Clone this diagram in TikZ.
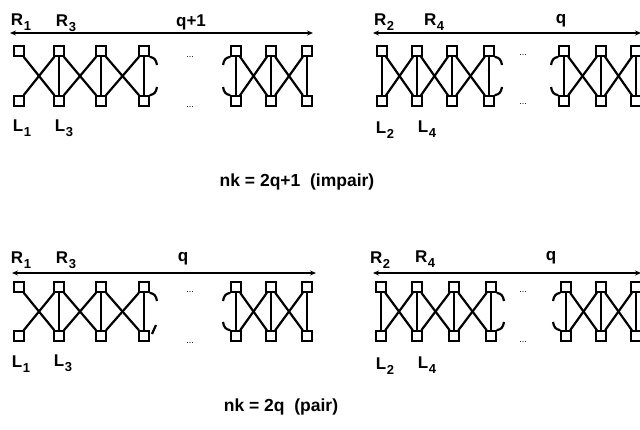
\documentclass[tikz,border=0pt]{standalone}
\usepackage{fontspec}
\setmainfont{Liberation Sans}
\usetikzlibrary{arrows.meta}
\newcommand{\lsub}[1]{\kern0.5pt\raisebox{-5pt}{\fontsize{13}{13}\selectfont #1}}
\tikzset{
  sq/.style={draw, line width=1.6pt, minimum size=10pt, inner sep=0pt},
  lnk/.style={line width=2.2pt},
  spanarr/.style={{Stealth[length=6pt, width=5pt]}-{Stealth[length=6pt, width=5pt]}, line width=1.2pt},
  lab/.style={font=\fontsize{17}{19}\selectfont\bfseries, inner sep=0pt},
  captxt/.style={font=\fontsize{17.5}{20}\selectfont\bfseries, inner sep=0pt},
  dts/.style={font=\fontsize{9}{9}\selectfont, inner sep=0pt}
}

\begin{document}
\begin{tikzpicture}[x=1pt, y=-1pt]
  \useasboundingbox (0,0) rectangle (640,429);
  % squares: a, b on top, c, d below
  \foreach \p/\yt/\yb/\xs in {a/51/101/{19,59,101,144,236,271,307},
                              b/51/101/{382,417,452,489,564,601,636},
                              c/287/336/{19,59,101,144,236,271,307},
                              d/287/336/{381,417,454,491,566,601,636}} {
    \foreach \x [count=\i] in \xs {
      \node[sq] (\p t\i) at (\x,\yt) {};
      \node[sq] (\p b\i) at (\x,\yb) {};
    }
  }
  % crossings and rungs
  \foreach \p in {a,b,c,d} {
    \foreach \i/\j in {1/2,2/3,3/4,5/6,6/7} {
      \draw[lnk] (\p t\i) -- (\p b\j);
      \draw[lnk] (\p b\i) -- (\p t\j);
    }
    \foreach \i in {2,...,7} \draw[lnk] (\p t\i) -- (\p b\i);
  }
  \draw[lnk] (bt1) -- (bb1);
  \draw[lnk] (dt1) -- (db1);
  % broken ends round the gap
  \foreach \p in {a,b,c,d} {
    \coordinate (\p u4) at ([shift={(13,14)}]\p t4.center);
    \coordinate (\p u5) at ([shift={(-13,14)}]\p t5.center);
    \coordinate (\p v5) at ([shift={(-13,-14)}]\p b5.center);
    \draw[lnk] (\p t4.south east) .. controls +(5,1) and +(-1,-5) .. (\p u4);
    \draw[lnk] (\p u5) .. controls +(1,-5) and +(-5,1) .. (\p t5.south west);
    \draw[lnk] (\p v5) .. controls +(1,5) and +(-5,-1) .. (\p b5.north west);
  }
  \foreach \p in {a,b,d} {
    \coordinate (\p v4) at ([shift={(13,-14)}]\p b4.center);
    \draw[lnk] (\p b4.north east) .. controls +(5,-1) and +(-1,5) .. (\p v4);
  }
  \coordinate (cw1) at ([shift={(8,-2)}]cb4.center);
  \coordinate (cw2) at ([shift={(12,-11)}]cb4.center);
  \draw[lnk] (cw1) -- (cw2);
  % spans
  \coordinate (ae1) at (10,33);  \coordinate (ae2) at (313,33);
  \coordinate (be1) at (373,33); \coordinate (be2) at (641,33);
  \coordinate (ce1) at (12,273); \coordinate (ce2) at (316,273);
  \coordinate (de1) at (373,273); \coordinate (de2) at (641,273);
  \foreach \p in {a,b,c,d} \draw[spanarr] (\p e1) -- (\p e2);
  % dots
  \node[dts] (ad1) at (190,57) {...};  \node[dts] (ad2) at (190,107) {...};
  \node[dts] (bd1) at (523,55) {...};  \node[dts] (bd2) at (523,104) {...};
  \node[dts] (cd1) at (190,292) {...}; \node[dts] (cd2) at (190,343) {...};
  \node[dts] (dd1) at (523,292) {...}; \node[dts] (dd2) at (523,342) {...};
  % labels
  \node[lab] (ar1) at (21,22) {R\lsub{1}};
  \node[lab] (ar3) at (66,23) {R\lsub{3}};
  \node[lab] (aq) at (191,22) {q+1};
  \node[lab] (al1) at (22,128) {L\lsub{1}};
  \node[lab] (al3) at (64,128) {L\lsub{3}};
  \node[lab] (br2) at (384,22) {R\lsub{2}};
  \node[lab] (br4) at (434,22) {R\lsub{4}};
  \node[lab] (bq) at (561,21) {q};
  \node[lab] (bl2) at (385,130) {L\lsub{2}};
  \node[lab] (bl4) at (427,129) {L\lsub{4}};
  \node[lab] (cr1) at (21,260) {R\lsub{1}};
  \node[lab] (cr3) at (66,260) {R\lsub{3}};
  \node[lab] (cq) at (183,259) {q};
  \node[lab] (cl1) at (21,364) {L\lsub{1}};
  \node[lab] (cl3) at (63,363) {L\lsub{3}};
  \node[lab] (dr2) at (380,260) {R\lsub{2}};
  \node[lab] (dr4) at (425,259) {R\lsub{4}};
  \node[lab] (dq) at (551,258) {q};
  \node[lab] (dl2) at (385,366) {L\lsub{2}};
  \node[lab] (dl4) at (427,365) {L\lsub{4}};
  % captions
  \node[captxt] (top) at (297,182) {nk = 2q+1~~(impair)};
  \node[captxt] (bot) at (281,407) {nk = 2q~~(pair)};
\end{tikzpicture}
\end{document}
